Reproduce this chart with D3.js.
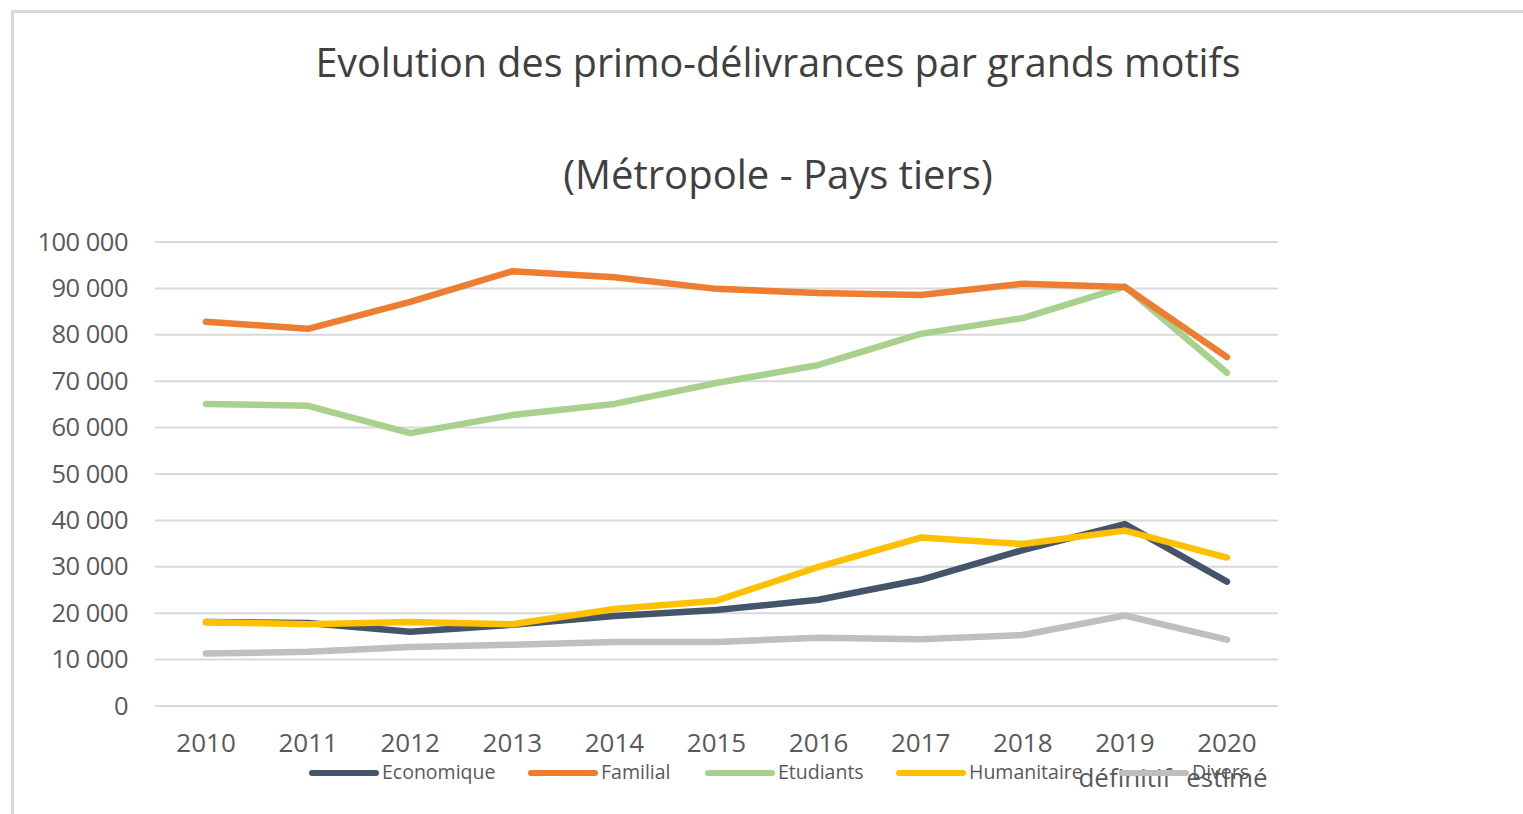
<!DOCTYPE html>
<html>
<head>
<meta charset="utf-8">
<script src="https://cdn.jsdelivr.net/npm/d3@7"></script>
<style>
  body { margin: 0; background: #fff; }
  svg { display: block; font-family: "Open Sans", "Noto Sans", sans-serif; }
</style>
</head>
<body>
<svg id="chart" width="1523" height="814"></svg>
<script>
// Données
const years = ["2010", "2011", "2012", "2013", "2014", "2015", "2016", "2017", "2018", "2019", "2020"];
const economique  = [18100, 17900, 16000, 17500, 19400, 20700, 22900, 27200, 33600, 39200, 26800];
const familial    = [82800, 81300, 87100, 93700, 92400, 89900, 89000, 88600, 91000, 90300, 75200];
const etudiants   = [65100, 64700, 58800, 62700, 65100, 69600, 73500, 80200, 83600, 90400, 71800];
const humanitaire = [18100, 17600, 18100, 17600, 20900, 22700, 30000, 36300, 34900, 37800, 32000];
const divers      = [11300, 11700, 12700, 13200, 13800, 13800, 14700, 14400, 15300, 19500, 14300];
const yTicks = [0, 10000, 20000, 30000, 40000, 50000, 60000, 70000, 80000, 90000, 100000];
const subLabels = { "2019": "définitif", "2020": "estimé" };

const series = [
  { name: "Economique",  values: economique,  color: "#44546a" },
  { name: "Familial",    values: familial,    color: "#ed7d31" },
  { name: "Etudiants",   values: etudiants,   color: "#a9d18e" },
  { name: "Humanitaire", values: humanitaire, color: "#ffc000" },
  { name: "Divers",      values: divers,      color: "#bfbfbf" }
];
// ordre de tracé (le dernier est au-dessus)
const drawOrder = ["Divers", "Etudiants", "Familial", "Economique", "Humanitaire"];

const svg = d3.select("#chart");

// cadre
svg.append("path")
  .attr("d", "M12.5,814 L12.5,11.5 L1523,11.5")
  .attr("fill", "none")
  .attr("stroke", "#d9d9d9")
  .attr("stroke-width", 3);

// titre
svg.append("text")
  .attr("x", 778).attr("y", 77)
  .attr("text-anchor", "middle")
  .attr("font-size", 39.5)
  .attr("fill", "#404040")
  .text("Evolution des primo-délivrances par grands motifs");

svg.append("text")
  .attr("x", 778).attr("y", 189)
  .attr("text-anchor", "middle")
  .attr("font-size", 40)
  .attr("fill", "#404040")
  .text("(Métropole - Pays tiers)");

// échelles
const x = d3.scaleBand().domain(years).range([155, 1278]);
const y = d3.scaleLinear().domain([0, 100000]).range([706, 242]);
const fmt = d => d3.format(",")(d).replace(/,/g, " ");

// grille
svg.append("g")
  .selectAll("line")
  .data(yTicks)
  .join("line")
  .attr("x1", 155).attr("x2", 1278)
  .attr("y1", d => y(d)).attr("y2", d => y(d))
  .attr("stroke", "#d9d9d9")
  .attr("stroke-width", 2);

// axe Y
const yAxis = svg.append("g")
  .attr("transform", "translate(128,0)")
  .call(d3.axisLeft(y).tickValues(yTicks).tickFormat(fmt).tickSize(0).tickPadding(0));
yAxis.select(".domain").remove();
yAxis.selectAll("text")
  .attr("font-size", 25.5)
  .attr("font-family", "Open Sans, sans-serif")
  .attr("fill", "#595959")
  .attr("letter-spacing", -0.5);

// axe X
const xAxis = svg.append("g")
  .attr("transform", "translate(0,706)")
  .call(d3.axisBottom(x).tickSize(0).tickPadding(28));
xAxis.select(".domain").remove();
xAxis.selectAll("text")
  .attr("font-size", 26)
  .attr("font-family", "Open Sans, sans-serif")
  .attr("fill", "#595959");

// sous-étiquettes
svg.append("g")
  .selectAll("text")
  .data(Object.keys(subLabels))
  .join("text")
  .attr("x", d => x(d) + x.bandwidth() / 2)
  .attr("y", 787)
  .attr("text-anchor", "middle")
  .attr("font-size", 26)
  .attr("fill", "#595959")
  .text(d => subLabels[d]);

// courbes
const line = d3.line()
  .x((d, i) => x(years[i]) + x.bandwidth() / 2)
  .y(d => y(d));

svg.append("g")
  .selectAll("path")
  .data(drawOrder.map(n => series.find(s => s.name === n)))
  .join("path")
  .attr("d", d => line(d.values))
  .attr("fill", "none")
  .attr("stroke", d => d.color)
  .attr("stroke-width", 6.5)
  .attr("stroke-linecap", "round")
  .attr("stroke-linejoin", "round");

// légende
const legendX = [310, 529, 706, 897, 1120];
const leg = svg.append("g")
  .selectAll("g")
  .data(series)
  .join("g")
  .attr("transform", (d, i) => `translate(${legendX[i]},773)`);

leg.append("line")
  .attr("x1", 2).attr("x2", 66)
  .attr("stroke", d => d.color)
  .attr("stroke-width", 6)
  .attr("stroke-linecap", "round");

leg.append("text")
  .attr("x", 72).attr("y", 6)
  .attr("font-size", 19.5)
  .attr("fill", "#595959")
  .text(d => d.name);
</script>
</body>
</html>
